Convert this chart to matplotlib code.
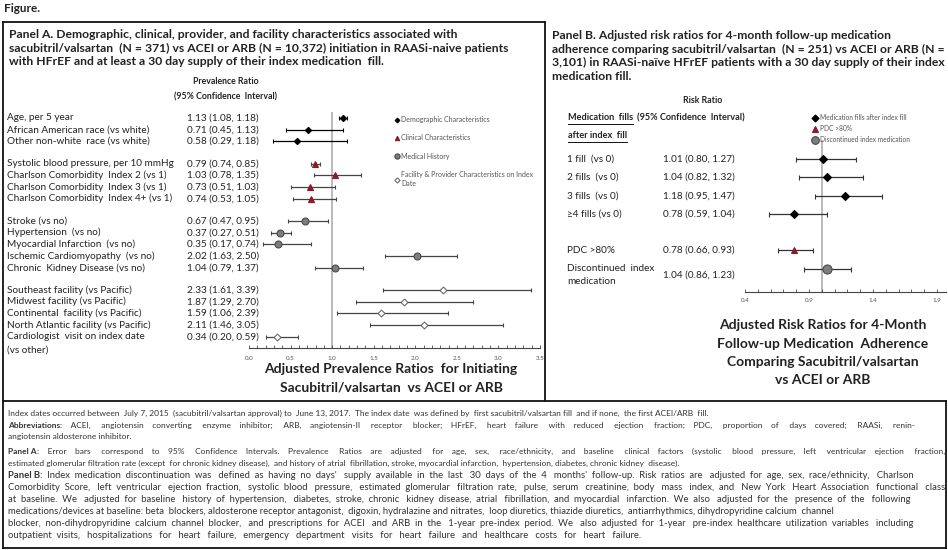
import matplotlib
matplotlib.use('Agg')
import matplotlib.pyplot as plt
import matplotlib.transforms as mtransforms
from matplotlib.lines import Line2D

plt.rcParams['font.family'] = ['Lato', 'DejaVu Sans']

W, H = 948, 550

# ---- Panel A: prevalence ratios (sacubitril/valsartan vs ACEI or ARB)
a_labels = ['Age, per 5 year', 'African American race (vs white)', 'Other non-white  race (vs white)',
            'Systolic blood pressure, per 10 mmHg', 'Charlson Comorbidity  Index 2 (vs 1)',
            'Charlson Comorbidity  Index 3 (vs 1)', 'Charlson Comorbidity  Index 4+ (vs 1)',
            'Stroke (vs no)', 'Hypertension  (vs no)', 'Myocardial Infarction  (vs no)',
            'Ischemic Cardiomyopathy  (vs no)', 'Chronic  Kidney Disease (vs no)',
            'Southeast facility (vs Pacific)', 'Midwest facility (vs Pacific)',
            'Continental  facility (vs Pacific)', 'North Atlantic facility (vs Pacific)',
            'Cardiologist  visit on index date\n(vs other)']
a_est = [1.13, 0.71, 0.58, 0.79, 1.03, 0.73, 0.74, 0.67, 0.37, 0.35, 2.02, 1.04, 2.33, 1.87, 1.59, 2.11, 0.34]
a_lo = [1.08, 0.45, 0.29, 0.74, 0.78, 0.51, 0.53, 0.47, 0.27, 0.17, 1.63, 0.79, 1.61, 1.29, 1.06, 1.46, 0.20]
a_hi = [1.18, 1.13, 1.18, 0.85, 1.35, 1.03, 1.05, 0.95, 0.51, 0.74, 2.50, 1.37, 3.39, 2.70, 2.39, 3.05, 0.59]
a_group = [0, 0, 0, 1, 1, 1, 1, 2, 2, 2, 2, 2, 3, 3, 3, 3, 3]
a_group_names = ['Demographic Characteristics', 'Clinical Characteristics', 'Medical History',
                 'Facility & Provider Characteristics on Index\nDate']
a_ticks = [0.0, 0.5, 1.0, 1.5, 2.0, 2.5, 3.0, 3.5]

# ---- Panel B: risk ratios for 4-month adherence
b_labels = ['1 fill  (vs 0)', '2 fills  (vs 0)', '3 fills  (vs 0)', '\u22654 fills (vs 0)',
            'PDC >80%', 'Discontinued  index\nmedication']
b_est = [1.01, 1.04, 1.18, 0.78, 0.78, 1.04]
b_lo = [0.80, 0.82, 0.95, 0.59, 0.66, 0.86]
b_hi = [1.27, 1.32, 1.47, 1.04, 0.93, 1.23]
b_group = [0, 0, 0, 0, 1, 2]
b_group_names = ['Medication fills after index fill', 'PDC >80%', 'Discontinued index medication']
b_ticks = [0.4, 0.9, 1.4, 1.9]

footnotes = [
    [('Index dates occurred between July 7, 2015 (sacubitril/valsartan approval) to June 13, 2017. The index date was defined by first sacubitril/valsartan fill and if none, the first ACEI/ARB fill.', 'normal')],
    [('Abbreviations', 'bold'), (': ACEI, angiotensin converting enzyme inhibitor; ARB, angiotensin-II receptor blocker; HFrEF, heart failure with reduced ejection fraction; PDC, proportion of days covered; RAASi, renin-', 'normal')],
    [('angiotensin aldosterone inhibitor.', 'normal')],
    [('Panel A', 'bold'), (': Error bars correspond to 95% Confidence Intervals. Prevalence Ratios are adjusted for age, sex, race/ethnicity, and baseline clinical factors (systolic blood pressure, left ventricular ejection fraction,', 'normal')],
    [('estimated glomerular filtration rate (except for chronic kidney disease), and history of atrial fibrillation, stroke, myocardial infarction, hypertension, diabetes, chronic kidney disease).', 'normal')],
    [('Panel B', 'bold'), (': Index medication discontinuation was defined as having no days\' supply available in the last 30 days of the 4 months\' follow-up. Risk ratios are adjusted for age, sex, race/ethnicity, Charlson', 'normal')],
    [('Comorbidity Score, left ventricular ejection fraction, systolic blood pressure, estimated glomerular filtration rate, pulse, serum creatinine, body mass index, and New York Heart Association functional class', 'normal')],
    [('at baseline. We adjusted for baseline history of hypertension, diabetes, stroke, chronic kidney disease, atrial fibrillation, and myocardial infarction. We also adjusted for the presence of the following', 'normal')],
    [('medications/devices at baseline: beta blockers, aldosterone receptor antagonist, digoxin, hydralazine and nitrates, loop diuretics, thiazide diuretics, antiarrhythmics, dihydropyridine calcium channel', 'normal')],
    [('blocker, non-dihydropyridine calcium channel blocker, and prescriptions for ACEI and ARB in the 1-year pre-index period. We also adjusted for 1-year pre-index healthcare utilization variables including', 'normal')],
    [('outpatient visits, hospitalizations for heart failure, emergency department visits for heart failure and healthcare costs for heart failure.', 'normal')],
]


def fx(x):
    return x / W


def fy(y):
    return 1 - y / H


fig = plt.figure(figsize=(W / 100, H / 100), dpi=100, facecolor='white')
renderer = fig.canvas.get_renderer()

TXT = '#222222'
RED = '#8b1a2b'
styles = [dict(marker='D', mfc='black', mec='black', ms=3.2, ecolor='black'),
          dict(marker='^', mfc=RED, mec=RED, ms=4.2, ecolor='#444444'),
          dict(marker='o', mfc='#7d7d7d', mec='#4a4a4a', ms=5, ecolor='#444444'),
          dict(marker='D', mfc='white', mec='#6a6a6a', ms=3.5, ecolor='#444444')]


def line(x0, y0, x1, y1, lw=1.3):
    fig.add_artist(Line2D([fx(x0), fx(x1)], [fy(y0), fy(y1)], transform=fig.transFigure,
                          color='#111111', lw=lw))


def footline(x, y, parts, size, right, color='#333333'):
    # one text per part; the last part gets extra spaces so the line ends near `right`
    arts = []
    for txt, weight in parts:
        t = fig.text(fx(x), fy(y), txt, fontsize=size, fontweight=weight, color=color,
                     va='center', ha='left')
        arts.append(t)
        x += t.get_window_extent(renderer).width
    t = arts[-1]
    txt = t.get_text()
    words = txt.split(' ')
    if len(words) < 3 or x >= right:
        return
    w0 = t.get_window_extent(renderer).width
    t.set_text(txt.replace(' ', '  '))
    space = (t.get_window_extent(renderer).width - w0) / (len(words) - 1)
    n_extra = int(round((right - x) / space))
    gaps = len(words) - 1
    out = words[0]
    for i, w in enumerate(words[1:]):
        k = (n_extra * (i + 1)) // gaps - (n_extra * i) // gaps
        out += ' ' * (1 + k) + w
    t.set_text(out)


# frame
line(3, 22, 545, 22)
line(3, 22, 3, 548)
line(545, 22, 545, 401)
line(3, 401, 946, 401)
line(3, 548, 946, 548)
line(946, 401, 946, 548)

fig.text(fx(4), fy(9), 'Figure.', fontsize=8.5, fontweight='bold', color=TXT, va='center')

# ---------------- Panel A ----------------
fig.text(fx(9), fy(48), 'Panel A. Demographic, clinical, provider, and facility characteristics associated with\n'
         'sacubitril/valsartan  (N = 371) vs ACEI or ARB (N = 10,372) initiation in RAASi-naive patients\n'
         'with HFrEF and at least a 30 day supply of their index medication  fill.',
         fontsize=8.7, fontweight='bold', color=TXT, va='center', ha='left', linespacing=1.3)
fig.text(fx(226), fy(82), 'Prevalence Ratio', fontsize=6.3, fontweight='bold', color=TXT, ha='center', va='center')
fig.text(fx(226), fy(97), '(95% Confidence  Interval)', fontsize=6.3, fontweight='bold', color=TXT,
         ha='center', va='center')

axA = fig.add_axes([fx(249), fy(348), (540 - 249) / W, (348 - 112) / H])
a_pos = [i + 0.9 * g for i, g in enumerate(a_group)]
for g in range(4):
    idx = [i for i in range(len(a_est)) if a_group[i] == g]
    st = styles[g]
    xs = [a_est[i] for i in idx]
    ys = [a_pos[i] for i in idx]
    err = [[a_est[i] - a_lo[i] for i in idx], [a_hi[i] - a_est[i] for i in idx]]
    axA.errorbar(xs, ys, xerr=err, fmt='none', ecolor=st['ecolor'], elinewidth=0.9,
                 capsize=1.5, capthick=0.8, zorder=2)
    axA.plot(xs, ys, ls='none', marker=st['marker'], mfc=st['mfc'], mec=st['mec'], ms=st['ms'],
             mew=0.8, zorder=3, label=a_group_names[g])
axA.axvline(1.0, color='#b4b4b4', lw=1.3, zorder=1)
axA.set_xlim(0, 3.5)
axA.set_ylim(19.66, -0.51)
axA.set_xticks(a_ticks)
axA.set_xticklabels(['%.1f' % t for t in a_ticks])
axA.set_xticks([i / 10 for i in range(36)], minor=True)
axA.tick_params(axis='x', which='both', direction='in', length=2.5, width=0.6, color='#444444',
                labelsize=4.5, labelcolor='#555555', pad=6)
axA.set_yticks([])
for s in ['top', 'left', 'right']:
    axA.spines[s].set_visible(False)
axA.spines['bottom'].set_color('#444444')
axA.spines['bottom'].set_linewidth(0.8)
axA.patch.set_alpha(0)

transA = mtransforms.blended_transform_factory(fig.transFigure, axA.transData)
for lab, e, lo, hi, p in zip(a_labels, a_est, a_lo, a_hi, a_pos):
    for k, part in enumerate(lab.split('\n')):
        axA.text(fx(7), p + 1.1 * k, part, transform=transA, fontsize=7.2, color=TXT,
                 va='center', ha='left', clip_on=False)
    axA.text(fx(187), p, '%.2f (%.2f, %.2f)' % (e, lo, hi), transform=transA, fontsize=7.2,
             color=TXT, va='center', ha='left', clip_on=False)

axA.legend(loc='upper left', bbox_to_anchor=(fx(395), fy(116)), bbox_transform=fig.transFigure,
           frameon=False, fontsize=5, labelcolor='#555555', handlelength=0.5, markerscale=0.75,
           handletextpad=0.4, labelspacing=1.65, borderpad=0, borderaxespad=0)

fig.text(fx(391), fy(369), 'Adjusted Prevalence Ratios  for Initiating', fontsize=10, fontweight='bold',
         color=TXT, ha='center', va='center')
fig.text(fx(391), fy(388), 'Sacubitril/valsartan  vs ACEI or ARB', fontsize=10, fontweight='bold',
         color=TXT, ha='center', va='center')

# ---------------- Panel B ----------------
fig.text(fx(552), fy(56), 'Panel B. Adjusted risk ratios for 4-month follow-up medication\n'
         'adherence comparing sacubitril/valsartan  (N = 251) vs ACEI or ARB (N =\n'
         '3,101) in RAASi-na\u00efve HFrEF patients with a 30 day supply of their index\n'
         'medication fill.',
         fontsize=8.7, fontweight='bold', color=TXT, va='center', ha='left', linespacing=1.3)
fig.text(fx(703), fy(100), 'Risk Ratio', fontsize=6.3, fontweight='bold', color=TXT, ha='center', va='center')
t1 = fig.text(fx(568), fy(118), 'Medication  fills', fontsize=6.6, fontweight='bold', color=TXT, va='center')
bb1 = t1.get_window_extent(renderer)
fig.text(fx(568) + (bb1.width + 4) / W, fy(118), '(95% Confidence  Interval)', fontsize=6.6,
         fontweight='bold', color=TXT, va='center')
t2 = fig.text(fx(568), fy(136), 'after index  fill', fontsize=6.6, fontweight='bold', color=TXT, va='center')
bb2 = t2.get_window_extent(renderer)
line(568, 124, 568 + bb1.width, 124, lw=0.7)
line(568, 142, 568 + bb2.width, 142, lw=0.7)

axB = fig.add_axes([fx(745), fy(292), (946 - 745) / W, (292 - 140) / H])
b_pos = [i + 1.0 * (g > 0) for i, g in enumerate(b_group)]
b_styles = [dict(marker='D', mfc='black', mec='black', ms=4.2, ecolor='#333333'),
            dict(marker='^', mfc=RED, mec=RED, ms=5, ecolor='#333333'),
            dict(marker='o', mfc='#7d7d7d', mec='#4a4a4a', ms=6.5, ecolor='#333333')]
for g in range(3):
    idx = [i for i in range(len(b_est)) if b_group[i] == g]
    st = b_styles[g]
    xs = [b_est[i] for i in idx]
    ys = [b_pos[i] for i in idx]
    err = [[b_est[i] - b_lo[i] for i in idx], [b_hi[i] - b_est[i] for i in idx]]
    axB.errorbar(xs, ys, xerr=err, fmt='none', ecolor=st['ecolor'], elinewidth=0.9,
                 capsize=1.8, capthick=0.8, zorder=2)
    axB.plot(xs, ys, ls='none', marker=st['marker'], mfc=st['mfc'], mec=st['mec'], ms=st['ms'],
             mew=0.8, zorder=3, label=b_group_names[g])
axB.axvline(1.0, color='#b4b4b4', lw=1.3, zorder=1)
axB.set_xlim(0.4, 1.97)
axB.set_ylim(7.27, -1.04)
axB.set_xticks(b_ticks)
axB.set_xticklabels(['%.1f' % t for t in b_ticks])
axB.set_xticks([0.4 + i / 10 for i in range(16)], minor=True)
axB.tick_params(axis='x', which='both', direction='in', length=2.5, width=0.6, color='#444444',
                labelsize=4.5, labelcolor='#555555', pad=4)
axB.set_yticks([])
for s in ['top', 'left', 'right']:
    axB.spines[s].set_visible(False)
axB.spines['bottom'].set_color('#444444')
axB.spines['bottom'].set_linewidth(0.8)
axB.patch.set_alpha(0)

transB = mtransforms.blended_transform_factory(fig.transFigure, axB.transData)
for lab, e, lo, hi, p in zip(b_labels, b_est, b_lo, b_hi, b_pos):
    parts = lab.split('\n')
    for k, part in enumerate(parts):
        axB.text(fx(567), p + 0.72 * k, part, transform=transB, fontsize=7.2, color=TXT,
                 va='center', ha='left', clip_on=False)
    axB.text(fx(663), p + 0.36 * (len(parts) - 1), '%.2f (%.2f, %.2f)' % (e, lo, hi), transform=transB,
             fontsize=7.2, color=TXT, va='center', ha='left', clip_on=False)

axB.legend(loc='upper left', bbox_to_anchor=(fx(813), fy(114)), bbox_transform=fig.transFigure,
           frameon=False, fontsize=4.8, labelcolor='#555555', handlelength=0.6, markerscale=0.85,
           handletextpad=0.4, labelspacing=0.6, borderpad=0, borderaxespad=0)

for k, txt in enumerate(['Adjusted Risk Ratios for 4-Month', 'Follow-up Medication  Adherence',
                         'Comparing Sacubitril/valsartan', 'vs ACEI or ARB']):
    fig.text(fx(823), fy(325 + 18.5 * k), txt, fontsize=10, fontweight='bold', color=TXT,
             ha='center', va='center')

# ---------------- footnotes ----------------
foot_y = [413, 425, 437, 451, 463, 476, 488, 499, 511, 523, 535]
foot_right = [708, 915, 125, 945, 680, 913, 945, 910, 835, 913, 640]
foot_size = [6.0, 6.0, 6.0, 6.0, 6.0, 6.8, 6.8, 6.8, 6.8, 6.8, 6.8]
for y, r, sz, parts in zip(foot_y, foot_right, foot_size, footnotes):
    footline(8, y, parts, sz, r)

fig.savefig('out.png', dpi=100, facecolor='white')
